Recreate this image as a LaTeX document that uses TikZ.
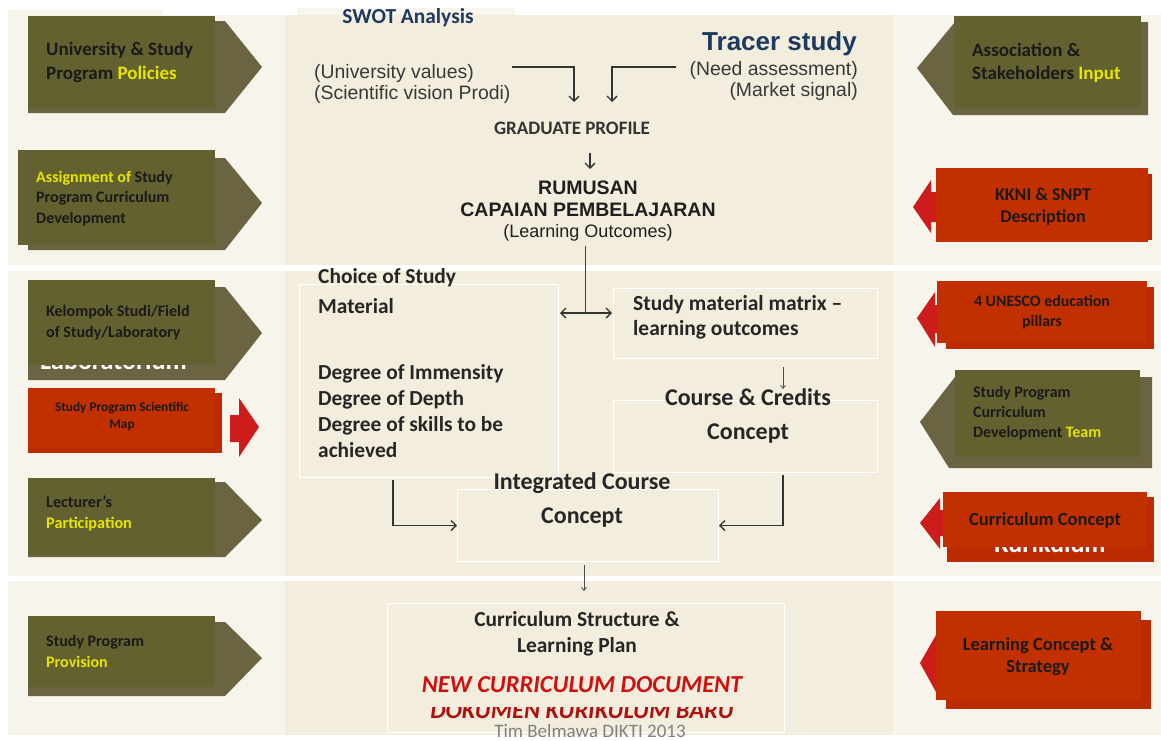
\documentclass[tikz,border=0pt]{standalone}
\usepackage{fontspec}
\setmainfont{Carlito}
\newfontfamily\arialf{Liberation Sans}
\usetikzlibrary{arrows.meta}
\definecolor{olivefront}{HTML}{63612F}
\definecolor{oliveback}{HTML}{6A6443}
\definecolor{redfront}{HTML}{C23000}
\definecolor{redback}{HTML}{BC2A02}
\definecolor{redarrow}{HTML}{CC1C1C}
\definecolor{beige}{HTML}{F2EDDC}
\definecolor{panel}{HTML}{F7F4EC}
\definecolor{navy}{HTML}{1F3A60}
\definecolor{hl}{HTML}{E6E600}
\definecolor{txt}{HTML}{1A1A1A}
\definecolor{ctxt}{HTML}{262626}
\definecolor{docred}{HTML}{D01010}
\newcommand\fsz[2]{\fontsize{#1}{#2}\selectfont}
\newcommand\hlt[1]{\textcolor{hl}{#1}}
\tikzset{
  olrect/.style={anchor=north west, inner sep=0pt, fill=olivefront},
  rdrect/.style={anchor=north west, inner sep=0pt, fill=redfront},
  sidetext/.style={inner sep=0pt, text=txt},
  cbox/.style={draw=white, line width=1pt, inner sep=0pt, anchor=north west},
  ctext/.style={inner sep=0pt, text=ctxt},
  arr/.style={draw=black!80, line width=1.1pt, -{Straight Barb[length=5pt,width=10pt,line width=1.3pt]}},
  thinarr/.style={draw=black!70, line width=0.8pt, -{Straight Barb[length=3pt,width=5pt]}},
}
\begin{document}
\begin{tikzpicture}[x=1pt,y=-1pt]
\useasboundingbox (0,0) rectangle (1161,740);
% backgrounds
\fill[white] (0,0) rectangle (1161,740);
\fill[panel] (8,10) rectangle (1161,735);
\fill[beige] (285,15) rectangle (893,735);
\fill[white] (163,0) rectangle (1161,15);
\fill[white!50!beige] (297,8) rectangle (515,15);
\fill[white] (8,265) rectangle (1161,271);
\fill[white] (8,576) rectangle (1161,581);

% ---------------- left side ----------------
\fill[oliveback] (28,21) -- (225,21) -- (262,67) -- (225,113) -- (28,113) -- cycle;
\node[olrect, minimum width=187pt, minimum height=92pt] (l1) at (28,16) {};
\node[sidetext, anchor=west, align=left, font=\bfseries\fsz{19}{24}] (l1t) at (46,62)
  {University \& Study\\Program \hlt{Policies}};

\fill[oliveback] (28,158) -- (225,158) -- (262,203) -- (225,250) -- (28,250) -- cycle;
\node[olrect, minimum width=197pt, minimum height=95pt] (l2) at (18,150) {};
\node[sidetext, anchor=west, align=left, font=\bfseries\fsz{16}{20.5}] (l2t) at (36,198.5)
  {\hlt{Assignment of} Study\\Program Curriculum\\Development};

\fill[oliveback] (28,287) -- (225,287) -- (262,333) -- (225,380) -- (28,380) -- cycle;
\node[anchor=base west, text=white, font=\bfseries\fsz{26}{28}, inner sep=0pt] (lab) at (40,369) {Laboratorium};
\node[olrect, minimum width=187pt, minimum height=85pt] (l3) at (28,280) {};
\node[sidetext, anchor=west, align=left, font=\bfseries\fsz{16}{21}] (l3t) at (46,322.5)
  {Kelompok Studi/Field\\of Study/Laboratory};

\fill[redback] (28,393) rectangle (222,453);
\node[rdrect, minimum width=187pt, minimum height=60pt] (l4) at (28,388) {};
\node[sidetext, align=center, font=\bfseries\fsz{13.3}{17}] (l4t) at (122,416.5)
  {Study Program Scientific\\Map};
\fill[redarrow] (230,415) -- (239,415) -- (239,398) -- (259,427) -- (239,457) -- (239,442) -- (230,442) -- cycle;

\fill[oliveback] (28,482) -- (225,482) -- (262,520) -- (225,557) -- (28,557) -- cycle;
\node[olrect, minimum width=187pt, minimum height=77pt] (l5) at (28,478) {};
\node[sidetext, anchor=west, align=left, font=\bfseries\fsz{16.2}{21}] (l5t) at (46,513.5)
  {Lecturer's\\\hlt{Participation}};

\fill[oliveback] (28,622) -- (225,622) -- (262,658) -- (225,696) -- (28,696) -- cycle;
\node[olrect, minimum width=187pt, minimum height=71pt] (l6) at (28,616) {};
\node[sidetext, anchor=west, align=left, font=\bfseries\fsz{16}{21}] (l6t) at (46,651.5)
  {Study Program\\\hlt{Provision}};

% ---------------- right side ----------------
\fill[oliveback] (1148,22) -- (955,22) -- (917,68) -- (953,115) -- (1148,115) -- cycle;
\node[olrect, minimum width=187pt, minimum height=92pt] (r1) at (954,16) {};
\node[sidetext, anchor=west, align=left, font=\bfseries\fsz{19}{23}] (r1t) at (972,62.5)
  {Association \&\\Stakeholders \hlt{Input}};

\fill[redback] (944,174) rectangle (1152,240);
\fill[redarrow] (940,192) -- (931,192) -- (931,180) -- (913,207) -- (931,233) -- (931,222) -- (940,222) -- cycle;
\node[rdrect, minimum width=212pt, minimum height=74pt] (r2) at (936,168) {};
\node[sidetext, align=center, font=\bfseries\fsz{18}{22}] (r2t) at (1043,207)
  {KKNI \& SNPT\\Description};

\fill[redback] (946,287) rectangle (1154,349);
\fill[redarrow] (945,305) -- (935,305) -- (935,292) -- (917,318) -- (935,347) -- (935,333) -- (945,333) -- cycle;
\node[rdrect, minimum width=210pt, minimum height=62pt] (r3) at (937,281) {};
\node[sidetext, align=center, font=\bfseries\fsz{15.9}{20}] (r3t) at (1042,312)
  {4 UNESCO education\\pillars};

\fill[oliveback] (1152,377) -- (955,377) -- (920,422) -- (949,468) -- (1152,468) -- cycle;
\node[olrect, minimum width=185pt, minimum height=87pt] (r4) at (955,370) {};
\node[sidetext, anchor=west, align=left, font=\bfseries\fsz{15.9}{20}] (r4t) at (973,413)
  {Study Program\\Curriculum\\Development \hlt{Team}};

\fill[redback] (947,497) rectangle (1154,562);
\fill[redarrow] (950,510) -- (940,510) -- (940,498) -- (920,523) -- (940,549) -- (940,536) -- (950,536) -- cycle;
\node[anchor=base, text=white, font=\bfseries\fsz{26}{28}, inner sep=0pt] (kur) at (1050,552) {Kurikulum};
\node[rdrect, minimum width=204pt, minimum height=55pt] (r5) at (943,492) {};
\node[sidetext, align=center, font=\bfseries\fsz{18.5}{22}] (r5t) at (1045,520)
  {Curriculum Concept};

\fill[redback] (946,620) rectangle (1151,709);
\fill[redarrow] (945,650) -- (936,650) -- (936,635) -- (920,663) -- (936,692) -- (936,677) -- (945,677) -- cycle;
\node[rdrect, minimum width=205pt, minimum height=89pt] (r6) at (936,611) {};
\node[sidetext, align=center, font=\bfseries\fsz{18.5}{22}] (r6t) at (1038,657)
  {Learning Concept \&\\Strategy};

% ---------------- centre: top section ----------------
\node[inner sep=0pt, text=navy, font=\bfseries\fsz{21.4}{24}] (swot) at (408,18) {SWOT Analysis};
\node[inner sep=0pt, anchor=east, text=navy, font=\arialf\bfseries\fsz{26}{28}] (tracer) at (857,44) {Tracer study};
\node[inner sep=0pt, anchor=west, align=left, text=black!78, font=\arialf\fsz{19.4}{21}] (uv) at (314,83.5)
  {(University values)\\(Scientific vision Prodi)};
\node[inner sep=0pt, anchor=east, align=right, text=black!78, font=\arialf\fsz{19.4}{21}] (na) at (858,80.5)
  {(Need assessment)\\(Market signal)};
\node[inner sep=0pt, text=black!80, font=\bfseries\fsz{19}{20}] (gp) at (572,128) {GRADUATE PROFILE};
\node[inner sep=0pt, align=center, text=black!88, font=\arialf\fsz{19.5}{21.5}] (lo) at (588,211.5)
  {\textbf{RUMUSAN}\\\textbf{CAPAIAN PEMBELAJARAN}\\{\fsz{18}{21.5}(Learning Outcomes)}};

\coordinate (a1s) at (512,67);
\coordinate (a1e) at (574,102);
\coordinate (a2s) at (676,67);
\coordinate (a2e) at (612,102);
\draw[arr] (a1s) -| (a1e);
\draw[arr] (a2s) -| (a2e);
\coordinate (g1) at (590,153);
\coordinate (g2) at (590,169);
\draw[arr] (g1) -- (g2);

% ---------------- centre: middle section ----------------
\node[cbox, minimum width=259pt, minimum height=193pt] (cb) at (299,284) {};
\node[cbox, minimum width=264pt, minimum height=70pt] (mb) at (613,288) {};
\node[cbox, minimum width=264pt, minimum height=72pt] (ccb) at (613,400) {};
\node[cbox, minimum width=261pt, minimum height=72pt, fill=beige] (ib) at (457,489) {};

\node[ctext, anchor=west, align=left, font=\bfseries\fsz{21.4}{30}] (choice) at (318,291) {Choice of Study\\Material};
\node[ctext, anchor=west, align=left, font=\bfseries\fsz{21.4}{26}] (deg) at (318,411)
  {Degree of Immensity\\Degree of Depth\\Degree of skills to be\\achieved};
\node[ctext, anchor=west, align=left, font=\bfseries\fsz{21.5}{25}] (mt) at (633,317.5)
  {Study material matrix --\\learning outcomes};
\node[ctext, align=center, font=\bfseries\fsz{24}{34}] (cc) at (748,416) {Course \& Credits\\Concept};
\node[ctext, align=center, font=\bfseries\fsz{24}{34}] (ic) at (582,500) {Integrated Course\\Concept};

\coordinate (lo1) at (585,246);
\coordinate (lo2) at (585,313);
\coordinate (dl) at (560,313);
\coordinate (dr) at (612,313);
\draw[draw=black!75, line width=0.9pt] (lo1) -- (lo2);
\draw[draw=black!80, line width=1.1pt, {Straight Barb[length=5pt,width=10pt,line width=1.3pt]}-{Straight Barb[length=5pt,width=10pt,line width=1.3pt]}] (dl) -- (dr);

\coordinate (m1) at (783,367);
\coordinate (m2) at (783,389);
\draw[thinarr] (m1) -- (m2);

\coordinate (c1) at (393,480);
\draw[arr] (c1) |- (ib.west);
\coordinate (c2) at (783,475);
\draw[arr] (c2) |- (ib.east);

% ---------------- centre: bottom section ----------------
\node[cbox, minimum width=397pt, minimum height=129pt] (bb) at (387,603) {};
\coordinate (i1) at (584,565);
\coordinate (i2) at (584,591);
\draw[thinarr] (i1) -- (i2);

\node[ctext, align=center, font=\bfseries\fsz{21.4}{26}] (cs) at (577,634) {Curriculum Structure \&\\Learning Plan};
\node[inner sep=0pt, text=docred, font=\bfseries\itshape\fsz{24.4}{26}] (ncd) at (582,685) {NEW CURRICULUM DOCUMENT};
\begin{scope}
  \clip (380,707) rectangle (790,722);
  \node[anchor=base, inner sep=0pt, text=docred!85!black, font=\bfseries\itshape\fsz{24.4}{26}] (dkb) at (582,718) {DOKUMEN KURIKULUM BARU};
\end{scope}
\node[inner sep=0pt, text=black!50, font=\fsz{19}{20}] (tim) at (590,731) {Tim Belmawa DIKTI 2013};
\end{tikzpicture}
\end{document}
